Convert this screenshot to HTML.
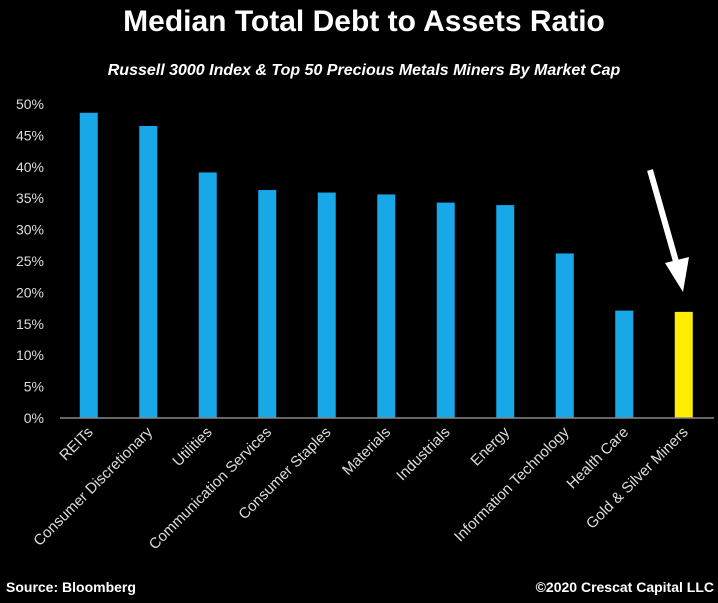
<!DOCTYPE html>
<html><head><meta charset="utf-8"><style>
body{margin:0;background:#000;width:718px;height:598px;overflow:hidden;font-family:"Liberation Sans",sans-serif}
</style></head><body>
<svg id="chart" width="718" height="598" xmlns="http://www.w3.org/2000/svg">
<rect width="718" height="598" fill="#000"/>
<text x="364" y="31" fill="#fff" font-size="30" font-weight="bold" text-anchor="middle">Median Total Debt to Assets Ratio</text>
<text x="364" y="75" fill="#fff" font-size="16" font-weight="bold" font-style="italic" text-anchor="middle">Russell 3000 Index &amp; Top 50 Precious Metals Miners By Market Cap</text>
<g id="yaxis"></g><g id="bars"></g><g id="xlabels"></g>
<line x1="60" y1="418" x2="714" y2="418" stroke="#888" stroke-width="1.5"/>
<g>
<line x1="650" y1="170" x2="677" y2="265" stroke="#fff" stroke-width="6"/>
<polygon points="665,263 689,257 683,292" fill="#fff"/>
</g>
<text x="6" y="592" fill="#fff" font-size="14" font-weight="bold">Source: Bloomberg</text>
<text x="714" y="592" fill="#fff" font-size="14" font-weight="bold" text-anchor="end">©2020 Crescat Capital LLC</text>
</svg>
<script>
const categories=["REITs","Consumer Discretionary","Utilities","Communication Services","Consumer Staples","Materials","Industrials","Energy","Information Technology","Health Care","Gold & Silver Miners"];
const values=[48.6,46.5,39.1,36.3,35.9,35.6,34.3,33.9,26.2,17.1,16.9];
const highlight=["Gold & Silver Miners"];
const yTicks=[0,5,10,15,20,25,30,35,40,45,50];
const NS="http://www.w3.org/2000/svg";
const x0=59,band=59.5,bw=18,yBase=418,yTop=104;
const y=v=>yBase-(v/50)*(yBase-yTop);
const xc=i=>x0+band*(i+0.5);
const ya=document.getElementById('yaxis');
yTicks.forEach(t=>{const e=document.createElementNS(NS,'text');


e.setAttribute('x',44);e.setAttribute('y',y(t)+5);e.setAttribute('fill','#ddd');e.setAttribute('font-size','14');e.setAttribute('text-anchor','end');e.textContent=t+'%';ya.appendChild(e);});
const bg=document.getElementById('bars'),xl=document.getElementById('xlabels');
categories.forEach((c,i)=>{const r=document.createElementNS(NS,'rect');


r.setAttribute('x',xc(i)-bw/2);r.setAttribute('y',y(values[i]));r.setAttribute('width',bw);r.setAttribute('height',yBase-y(values[i]));
r.setAttribute('fill',highlight.includes(c)?'#ffee00':'#18a8e8');bg.appendChild(r);
const t=document.createElementNS(NS,'text');


const tx=xc(i)+5,ty=433;
t.setAttribute('x',tx);t.setAttribute('y',ty);t.setAttribute('fill','#ddd');t.setAttribute('font-size','15');t.setAttribute('text-anchor','end');
t.setAttribute('transform','rotate(-45 '+tx+' '+ty+')');t.textContent=c;xl.appendChild(t);});
</script>
</body></html>
